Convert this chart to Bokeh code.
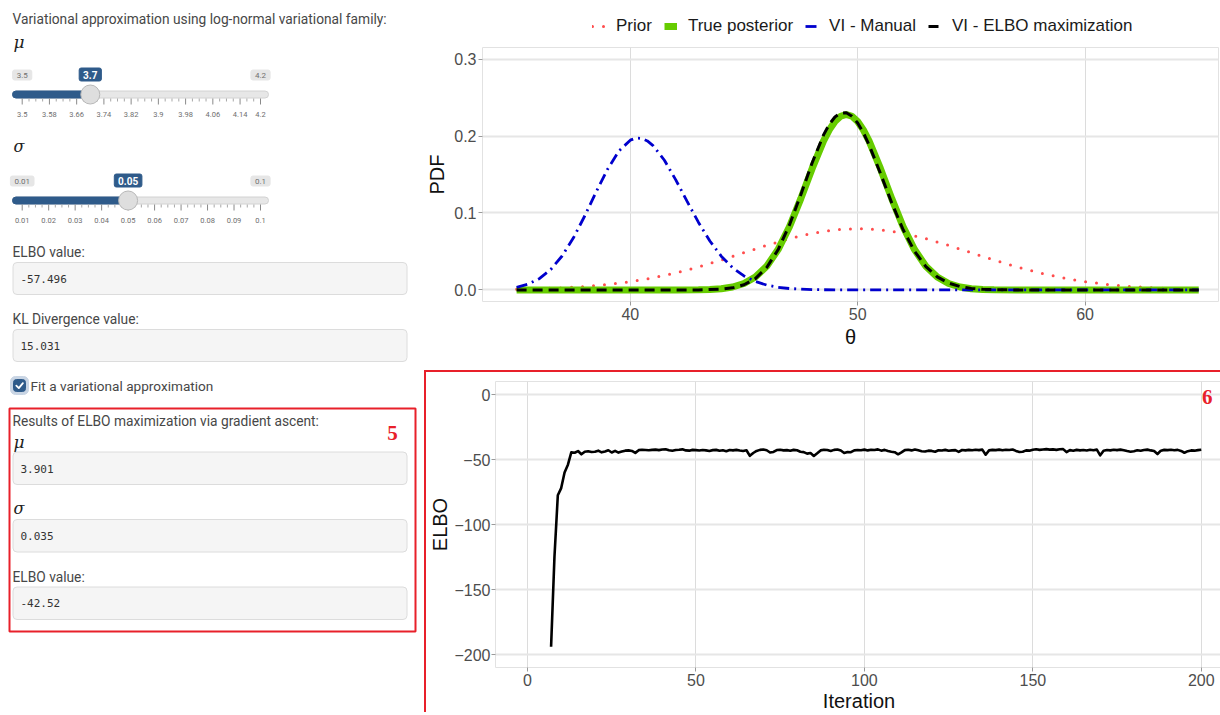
from bokeh.plotting import figure
from bokeh.models import (Range1d, FixedTicker, NumeralTickFormatter, Legend, LegendItem, Label)
from bokeh.layouts import row, column
from bokeh.embed import file_html
from bokeh.resources import INLINE
from bokeh.core.properties import value

# ------------------------------------------------------------------ data
# Prior density (dotted red)
theta_prior = [35, 36, 37, 38, 39, 40, 41, 42, 43, 44, 45, 46, 47, 48, 49, 50,
               51, 52, 53, 54, 55, 56, 57, 58, 59, 60, 61, 62, 63, 64, 65]
pdf_prior = [0.00089, 0.00158, 0.00272, 0.00448, 0.00709, 0.0108, 0.0158, 0.0222,
             0.0299, 0.0388, 0.0484, 0.0579, 0.0666, 0.0737, 0.0782, 0.0798,
             0.0782, 0.0737, 0.0666, 0.0579, 0.0484, 0.0388, 0.0299, 0.0222,
             0.0158, 0.0108, 0.00709, 0.00448, 0.00272, 0.00158, 0.00089]

# True posterior (green)
theta_post = [35, 40, 42, 43, 43.5, 44, 44.5, 45, 45.5, 46, 46.5, 47, 47.5, 48, 48.5,
              48.75, 49, 49.25, 49.5, 49.75, 50, 50.25, 50.5, 51, 51.5, 52, 52.5, 53,
              53.5, 54, 54.5, 55, 55.5, 56, 57, 60, 65]
pdf_post = [0, 0, 0.00002, 0.00023, 0.00064, 0.00163, 0.00385, 0.00836, 0.01673, 0.03085,
            0.05246, 0.08217, 0.11864, 0.15789, 0.19362, 0.20797, 0.21885, 0.22565,
            0.22797, 0.22565, 0.21885, 0.20797, 0.19362, 0.15789, 0.11864, 0.08217,
            0.05246, 0.03085, 0.01673, 0.00836, 0.00385, 0.00163, 0.00064, 0.00023,
            0.00002, 0, 0]

# VI - Manual (blue dot-dash)
theta_manual = [35, 35.5, 36, 36.5, 37, 37.5, 38, 38.5, 39, 39.5, 40, 40.25, 40.5, 40.75,
                41, 41.5, 42, 42.5, 43, 43.5, 44, 44.5, 45, 45.5, 46, 46.5, 47, 48, 49,
                50, 55, 60, 65]
pdf_manual = [0.00347, 0.00746, 0.0147, 0.02653, 0.0441, 0.0677, 0.0964, 0.1274, 0.1569,
              0.1805, 0.1946, 0.19729, 0.1969, 0.19364, 0.1876, 0.1685, 0.1430, 0.1150,
              0.0877, 0.0636, 0.0439, 0.0289, 0.0182, 0.01098, 0.00634, 0.00351, 0.00187,
              0.00047, 0.0001, 0.00002, 0, 0, 0]

# VI - ELBO maximization (black dashed)
theta_elbo = [35, 40, 43, 44, 44.5, 45, 45.5, 46, 46.5, 47, 47.5, 48, 48.5, 48.75, 49,
              49.25, 49.5, 49.75, 50, 50.25, 50.5, 51, 51.5, 52, 52.5, 53, 53.5, 54,
              54.5, 55, 55.5, 56, 57, 60, 65]
pdf_elbo = [0, 0, 0.00009, 0.00099, 0.00272, 0.0067, 0.01476, 0.02924, 0.05222, 0.08441,
            0.12379, 0.16527, 0.20144, 0.21509, 0.22475, 0.22986, 0.23018, 0.22576,
            0.21694, 0.20431, 0.18863, 0.15163, 0.11302, 0.07824, 0.05042, 0.03031,
            0.01702, 0.00896, 0.00442, 0.00205, 0.0009, 0.00037, 0.00005, 0, 0]

legend_labels = ["Prior", "True posterior", "VI - Manual", "VI - ELBO maximization"]

# ELBO trace (iterations 7..200 visible inside the limits)
elbo_iter = list(range(7, 201))
elbo_values = [
    -194, -125, -77.5, -72, -60, -54, -44.5, -44.8, -43.5, -46.0,
    -44.0, -43.6, -44.2, -44.0, -43.2, -44.5, -43.8, -42.9, -44.6, -43.4,
    -44.7, -43.9, -43.2, -43.0, -43.4, -44.9, -42.8, -42.5, -42.7, -42.9,
    -42.6, -42.4, -42.8, -42.3, -42.1, -42.9, -43.3, -42.7, -42.5, -42.2,
    -43.0, -43.2, -42.6, -42.8, -43.1, -42.7, -43.0, -43.4, -42.8, -42.6,
    -43.3, -42.9, -43.6, -42.7, -43.0, -42.6, -43.1, -43.4, -42.9, -47.2,
    -45.0, -43.4, -42.6, -42.3, -42.9, -44.6, -44.2, -42.7, -42.5, -43.0,
    -42.8, -43.3, -42.6, -42.9, -44.0, -44.3, -45.5, -45.0, -47.3, -45.2,
    -43.0, -42.5, -42.7, -43.4, -42.6, -42.3, -43.1, -45.0, -44.2, -44.4,
    -43.0, -42.7, -42.9, -42.4, -43.0, -42.5, -42.7, -42.2, -43.2, -42.6,
    -43.5, -44.0, -44.4, -46.0, -44.5, -42.8, -42.5, -43.0, -42.3, -42.9,
    -43.6, -43.9, -43.2, -43.4, -44.0, -42.9, -43.1, -42.6, -43.3, -43.0,
    -42.8, -44.1, -42.7, -43.0, -42.6, -42.9, -42.5, -42.8, -42.4, -46.3,
    -43.0, -42.6, -42.8, -42.4, -42.9, -42.5, -42.7, -42.3, -43.4, -44.2,
    -44.0, -43.0, -43.2, -42.5, -42.1, -42.6, -42.3, -42.0, -42.4, -42.2,
    -42.6, -42.1, -42.0, -44.3, -42.8, -43.2, -42.6, -43.0, -42.7, -43.1,
    -42.5, -42.9, -42.4, -46.8, -43.2, -42.7, -43.0, -42.5, -42.8, -42.4,
    -42.9, -43.5, -44.0, -43.6, -42.9, -43.3, -42.7, -42.4, -43.0, -43.5,
    -45.8, -43.2, -42.6, -42.8, -42.5, -42.9, -42.6, -43.4, -44.8, -43.6,
    -43.0, -43.2, -42.8, -42.52]

# Sidebar values
mu_min, mu_max, mu_value = 3.5, 4.2, 3.7
mu_grid = [3.5, 3.58, 3.66, 3.74, 3.82, 3.9, 3.98, 4.06, 4.14, 4.2]
sigma_min, sigma_max, sigma_value = 0.01, 0.1, 0.05
sigma_grid = [0.01, 0.02, 0.03, 0.04, 0.05, 0.06, 0.07, 0.08, 0.09, 0.1]
elbo_manual_text = "-57.496"
kl_text = "15.031"
fit_mu_text = "3.901"
fit_sigma_text = "0.035"
fit_elbo_text = "-42.52"

# ------------------------------------------------------------------ styles
RED = "#E8202A"
SBLUE = "#2F5B8A"
TXT = "#474747"
SANS = "Roboto"
MONO = "DejaVu Sans Mono"
LBL = "13.75px"
H = 714

# ------------------------------------------------------------------ sidebar
lp = figure(width=420, height=H, x_range=Range1d(0, 420), y_range=Range1d(H, 0),
            output_backend="svg", toolbar_location=None, min_border=0,
            x_axis_location=None, y_axis_location=None, outline_line_color=None)
lp.grid.visible = False


def txt(x, y, s, size=LBL, font=SANS, color=TXT, align="left", style="normal"):
    lp.text(x=[x], y=[y], text=[s], text_font=value(font), text_font_size=size,
            text_color=color, text_align=align, text_baseline="middle",
            text_font_style=style)


def box(l, r, t, b, fill, line, radius=4, lw=1):
    lp.quad(left=[l], right=[r], top=[t], bottom=[b], fill_color=fill,
            line_color=line, line_width=lw, border_radius=radius)


def slider(yc, vmin, vmax, val, grid, nsub):
    x0, x1 = 21.7, 260.0

    def px(v):
        return x0 + (v - vmin) / (vmax - vmin) * (x1 - x0)

    # track + filled bar
    box(12, 268, yc - 3.5, yc + 3.5, "#E7E7E7", "#D2D2D2", radius=4)
    box(12, px(val), yc - 3.5, yc + 3.5, SBLUE, SBLUE, radius=4)
    # grid ticks
    step = (grid[1] - grid[0]) / nsub
    minors = []
    k = 1
    v = vmin + step
    while v < vmax - 1e-9:
        if k % nsub != 0:
            minors.append(px(v))
        k += 1
        v = vmin + k * step
    majors = [px(g) for g in grid]
    lp.segment(x0=majors, y0=[yc + 4] * len(majors), x1=majors, y1=[yc + 10] * len(majors),
               line_color="#8A8A8A", line_width=1)
    lp.segment(x0=minors, y0=[yc + 4] * len(minors), x1=minors, y1=[yc + 7] * len(minors),
               line_color="#A8A8A8", line_width=1)
    lp.text(x=majors, y=[yc + 19.5] * len(majors), text=[f"{g:g}" for g in grid],
            text_font=value(SANS), text_font_size="7.5px", text_color="#6E6E6E",
            text_align="center", text_baseline="middle")
    # min / max labels
    for v in (vmin, vmax):
        s = f"{v:g}"
        w = 4.4 * len(s) + 6
        box(px(v) - w / 2, px(v) + w / 2, yc - 24.5, yc - 14.5, "#E6E6E6", "#E6E6E6", radius=2)
        txt(px(v), yc - 19.5, s, size="8px", color="#707070", align="center")
    # value label
    s = f"{val:g}"
    w = 5.4 * len(s) + 6
    box(px(val) - w / 2, px(val) + w / 2, yc - 26.5, yc - 13.5, SBLUE, SBLUE, radius=2)
    txt(px(val), yc - 20, s, size="10px", color="white", align="center", style="bold")
    # handle
    lp.scatter(x=[px(val)], y=[yc], size=19, marker="circle", fill_color="#DEDEDE",
               line_color="#B8B8B8", line_width=1)


txt(12, 18, "Variational approximation using log-normal variational family:")
txt(13, 41, "μ", size="17px", font="DejaVu Serif", color="#222222", style="italic")
slider(94, mu_min, mu_max, mu_value, mu_grid, 4)
txt(13, 146, "σ", size="16px", font="DejaVu Serif", color="#222222", style="italic")
slider(200, sigma_min, sigma_max, sigma_value, sigma_grid, 4)

txt(12, 251, "ELBO value:")
box(12.5, 406.5, 262, 294, "#F5F5F5", "#DCDCDC")
txt(20, 278, elbo_manual_text, size="11px", font=MONO, color="#333333")
txt(12, 318, "KL Divergence value:")
box(12.5, 406.5, 329, 361, "#F5F5F5", "#DCDCDC")
txt(20, 345, kl_text, size="11px", font=MONO, color="#333333")

# checkbox
box(10, 28, 376, 394, "#C9D5E4", "#C9D5E4", radius=5)
box(13, 25, 379, 391, SBLUE, SBLUE, radius=3)
lp.line(x=[15.8, 18.3, 22.4], y=[385.2, 387.6, 382.6], line_color="white", line_width=1.8,
        line_cap="round", line_join="round")
txt(30, 385, "Fit a variational approximation", size="13.6px")

# results box
box(9, 415, 408, 631, None, RED, radius=0, lw=2)
txt(12, 420, "Results of ELBO maximization via gradient ascent:")
txt(392, 432, "5", size="21px", font="Liberation Serif", color=RED, align="center", style="bold")
txt(13, 441, "μ", size="17px", font="DejaVu Serif", color="#222222", style="italic")
box(12.5, 406.5, 451.5, 484, "#F5F5F5", "#DCDCDC")
txt(20, 468, fit_mu_text, size="11px", font=MONO, color="#333333")
txt(13, 508, "σ", size="16px", font="DejaVu Serif", color="#222222", style="italic")
box(12.5, 406.5, 519, 551.5, "#F5F5F5", "#DCDCDC")
txt(20, 535, fit_sigma_text, size="11px", font=MONO, color="#333333")
txt(12, 576, "ELBO value:")
box(12.5, 406.5, 586.5, 619, "#F5F5F5", "#DCDCDC")
txt(20, 602, fit_elbo_text, size="11px", font=MONO, color="#333333")


# ------------------------------------------------------------------ chart styling
def style(p):
    for ax in p.axis:
        ax.axis_line_color = None
        ax.major_tick_line_color = "#9A9A9A"
        ax.major_tick_out = 4
        ax.major_tick_in = 0
        ax.minor_tick_line_color = None
        ax.major_label_text_font = "Liberation Sans"
        ax.major_label_text_font_size = "16px"
        ax.major_label_text_color = "#4D4D4D"
        ax.axis_label_text_font = "Liberation Sans"
        ax.axis_label_text_font_size = "20px"
        ax.axis_label_text_font_style = "normal"
        ax.axis_label_text_color = "#111111"
        ax.major_label_standoff = 2
        ax.axis_label_standoff = 3
    p.outline_line_color = "#E2E2E2"
    p.xgrid.grid_line_color = "#DCDCDC"
    p.xgrid.grid_line_width = 1
    p.ygrid.grid_line_color = "#E6E6E6"
    p.ygrid.grid_line_width = 2
    p.background_fill_color = "white"
    p.border_fill_color = "white"


STYLES = [dict(line_color="#FF4D4D", line_width=3, line_dash="0 11", line_cap="round"),
          dict(line_color="#66CC00", line_width=7),
          dict(line_color="#0000CD", line_width=2.8, line_dash="11 5 2 5"),
          dict(line_color="black", line_width=3, line_dash="10 6")]
SERIES = [(theta_prior, pdf_prior), (theta_post, pdf_post),
          (theta_manual, pdf_manual), (theta_elbo, pdf_elbo)]

# ------------------------------------------------------------------ legend strip
# (same series, drawn out of this strip's view; only the legend keys show)
pl = figure(width=800, height=40, x_range=Range1d(0, 1), y_range=Range1d(0, 1),
            output_backend="svg", toolbar_location=None, min_border=0,
            x_axis_location=None, y_axis_location=None, outline_line_color=None)
pl.grid.visible = False
leg_r = [pl.line(x=xs, y=ys, **st) for (xs, ys), st in zip(SERIES, STYLES)]
legend = Legend(items=[LegendItem(label=l, renderers=[r]) for l, r in zip(legend_labels, leg_r)],
                orientation="horizontal", location=(172, 4), border_line_color=None,
                background_fill_alpha=0, label_text_font="Liberation Sans",
                label_text_font_size="17px", label_text_color="#1A1A1A",
                glyph_width=13, glyph_height=14, label_standoff=11, spacing=12,
                padding=5, margin=0)
pl.add_layout(legend, "center")

# ------------------------------------------------------------------ top: densities
p1 = figure(width=800, height=330, x_range=Range1d(33.5, 65.87),
            y_range=Range1d(-0.015, 0.315), output_backend="svg", toolbar_location=None,
            min_border_left=62, min_border_right=2, min_border_top=7, min_border_bottom=69)
for (xs, ys), st in zip(SERIES, STYLES):
    p1.line(xs, ys, **st)
p1.xaxis.ticker = FixedTicker(ticks=[40, 50, 60])
p1.yaxis.ticker = FixedTicker(ticks=[0, 0.1, 0.2, 0.3])
p1.yaxis.formatter = NumeralTickFormatter(format="0.0")
p1.xaxis.axis_label = "θ"
p1.yaxis.axis_label = "PDF"
style(p1)

# ------------------------------------------------------------------ bottom: ELBO trace
p2 = figure(width=796, height=342, x_range=Range1d(-9.5, 206.3), y_range=Range1d(-210, 10),
            output_backend="svg", toolbar_location=None,
            min_border_left=66, min_border_right=0, min_border_top=9, min_border_bottom=44)
p2.line(elbo_iter, elbo_values, line_color="black", line_width=2.6, line_join="round")
p2.xaxis.ticker = FixedTicker(ticks=[0, 50, 100, 150, 200])
p2.yaxis.ticker = FixedTicker(ticks=[-200, -150, -100, -50, 0])
p2.xaxis.axis_label = "Iteration"
p2.yaxis.axis_label = "ELBO"
style(p2)
p2.yaxis.major_label_standoff = 1
p2.yaxis.axis_label_standoff = 0
p2.xaxis.axis_label_standoff = 1
p2.add_layout(Label(x=201.8, y=-2.2, text="6", text_font="Liberation Serif",
                    text_font_style="bold", text_font_size="21px", text_color=RED,
                    text_align="center", text_baseline="middle"))
p2.margin = (0, 0, 0, 4)
p2.styles = {"border-top": f"2px solid {RED}", "border-left": f"2px solid {RED}"}

layout = row(lp, column(pl, row(p1), row(p2)))
open("out.html", "w").write(file_html(layout, INLINE))
